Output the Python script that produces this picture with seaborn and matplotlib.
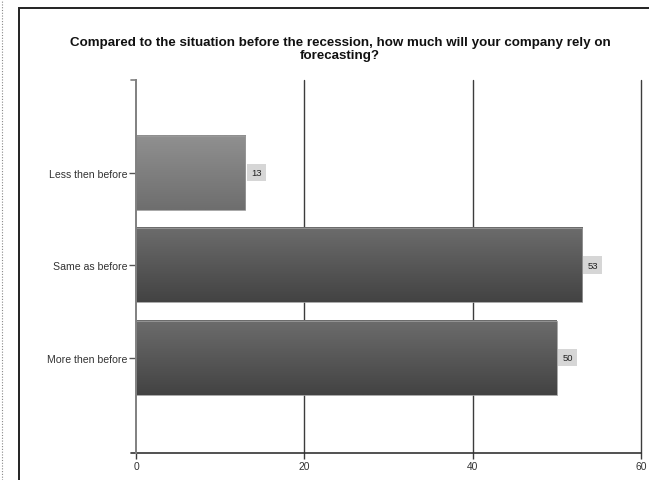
import numpy as np
import pandas as pd
import matplotlib
matplotlib.use("Agg")
import matplotlib.pyplot as plt
import matplotlib.lines as mlines
import matplotlib.patches as mpatches
import seaborn as sns

# Survey answers and counts
categories = ["Less then before", "Same as before", "More then before"]
counts = [13, 53, 50]
x_ticks = [0, 20, 40, 60]

# Gradient shades (top, bottom) for each bar
bar_shades = [("#909090", "#6e6e6e"), ("#6c6c6c", "#434343"), ("#6c6c6c", "#434343")]

title = ("Compared to the situation before the recession, how much will your company rely on\n"
         "forecasting?")

sns.set_theme(style="white")
plt.rcParams["font.family"] = ["Liberation Sans", "DejaVu Sans"]

df = pd.DataFrame({"answer": categories, "count": counts})

fig = plt.figure(figsize=(6.49, 4.81), dpi=100)
W, H = 649, 481
ax = fig.add_axes([136 / W, 1 - 454 / H, (641 - 136) / W, (454 - 81) / H])

sns.barplot(data=df, x="count", y="answer", orient="h", ax=ax,
            color="#666666", width=0.8, saturation=1)

ax.set_xlim(0, 60)
ax.set_ylim(3.03, -1.0)
ax.set_xticks(x_ticks)
ax.set_xlabel("")
ax.set_ylabel("")

# Vertical gridlines (the one at zero is covered by the left axis line)
ax.xaxis.grid(True, color="#3c3c3c", linewidth=1.0)
ax.yaxis.grid(False)
ax.set_axisbelow(True)
gl = ax.get_xgridlines()
gl[0].set_visible(False)
for g in gl:
    g.set_clip_on(False)

ax.spines["top"].set_visible(False)
ax.spines["right"].set_visible(False)
ax.spines["left"].set_color("#808080")
ax.spines["left"].set_linewidth(1.4)
ax.spines["left"].set_zorder(5)
ax.spines["bottom"].set_color("#333333")
ax.spines["bottom"].set_linewidth(1.2)

ax.tick_params(axis="x", direction="out", length=4, width=1.0, color="#3c3c3c",
               labelsize=7.4, labelcolor="#333333", pad=2, bottom=True)
ax.tick_params(axis="y", direction="out", length=5, width=1.0, color="#555555",
               labelsize=7.6, labelcolor="#333333", pad=1, left=True)

# Short stubs at the top of the left axis line and left of the bottom axis line
ax.add_line(mlines.Line2D([-0.009, 0], [1, 1], transform=ax.transAxes,
                          color="#808080", linewidth=1.2, clip_on=False))
ax.add_line(mlines.Line2D([-0.01, 0], [0, 0], transform=ax.transAxes,
                          color="#333333", linewidth=1.2, clip_on=False))

# Replace flat bar fills with vertical gradients, then add value boxes
for patch, (top_c, bot_c), val in zip(ax.patches, bar_shades, counts):
    x0, y0 = patch.get_x(), patch.get_y()
    w, h = patch.get_width(), patch.get_height()
    c_top = np.array(matplotlib.colors.to_rgb(top_c))
    c_bot = np.array(matplotlib.colors.to_rgb(bot_c))
    t = np.linspace(0, 1, 64)[:, None, None]
    grad = c_top * (1 - t) + c_bot * t
    ax.imshow(grad, extent=(x0, x0 + w, y0 + h, y0), aspect="auto",
              interpolation="bilinear", zorder=3)
    patch.set_facecolor("none")
    patch.set_edgecolor("#9a9a9a")
    patch.set_linewidth(0.6)
    patch.set_zorder(4)
    ax.annotate(str(val), xy=(x0 + w, y0 + h / 2), xytext=(4, 0),
                textcoords="offset points", ha="left", va="center",
                fontsize=6.8, color="#222222", zorder=6,
                bbox=dict(boxstyle="square,pad=0.45", fc="#d6d6d6", ec="none"))

ax.set_xlim(0, 60)
ax.set_ylim(3.03, -1.0)

# Title
fig.text(340 / W, 1 - 49.5 / H, title, ha="center", va="center",
         fontsize=9.6, fontweight="bold", color="#111111", linespacing=1.1)

# Outer frame (top and left edges visible)
fig.patches.append(mpatches.Rectangle((19 / W, -0.2), 1.5, 1.2 - 9 / H,
                                      transform=fig.transFigure, fill=False,
                                      edgecolor="#222222", linewidth=1.4))
# Dotted margin line
fig.lines.append(mlines.Line2D([1.5 / W, 1.5 / W], [0, 1], transform=fig.transFigure,
                               color="#888888", linewidth=0.8, linestyle=(0, (1, 1.5))))

fig.savefig("out.png", dpi=100)
